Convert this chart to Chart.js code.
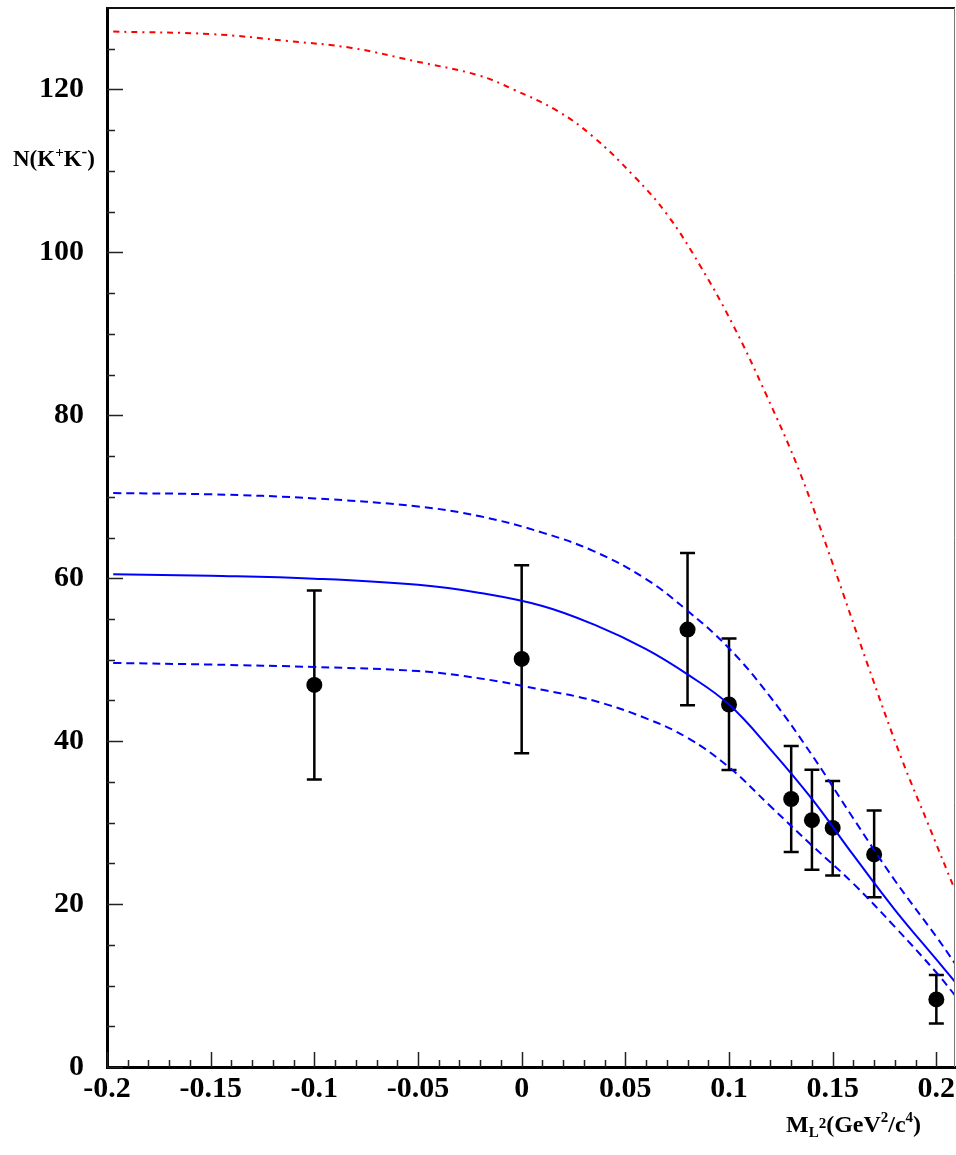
<!DOCTYPE html>
<html>
<head>
<meta charset="utf-8">
<script src="https://cdn.jsdelivr.net/npm/chart.js@4/dist/chart.umd.min.js"></script>
<style>
  html, body { margin: 0; padding: 0; background: #fff; overflow: hidden; }
  #wrap { position: relative; width: 956px; height: 1155px; }
  canvas { display: block; }
</style>
</head>
<body>
<div id="wrap"><canvas id="chart"></canvas></div>
<script>
// measured points with errors
const pointX   = [-0.1, 0, 0.08, 0.1, 0.13, 0.14, 0.15, 0.17, 0.2];
const pointY   = [46.9, 50.1, 53.7, 44.5, 32.9, 30.3, 29.35, 26.1, 8.3];
const errLow   = [35.3, 38.5, 44.4, 36.45, 26.4, 24.2, 23.5, 20.85, 5.35];
const errHigh  = [58.5, 61.6, 63.1, 52.6, 39.4, 36.5, 35.1, 31.5, 11.3];

// x positions where the blue curves were read
const bandX = [-0.197, -0.15, -0.1, -0.05, -0.02, 0.01, 0.035, 0.06, 0.08, 0.1, 0.12, 0.14, 0.16, 0.18, 0.2, 0.209];
// fit (solid blue)
const fitY  = [60.5, 60.3, 59.95, 59.2, 58.2, 56.6, 54.3, 51.3, 48.2, 44.5, 39.0, 32.9, 26.0, 19.3, 13.2, 10.45];
// fit band upper / lower (dashed blue)
const upY   = [70.45, 70.3, 69.8, 68.8, 67.6, 65.6, 63.3, 59.9, 56.0, 51.4, 45.4, 38.3, 30.5, 22.9, 16.0, 12.7];
const loY   = [49.6, 49.4, 49.1, 48.6, 47.7, 46.3, 44.95, 42.8, 40.4, 36.8, 32.0, 27.2, 22.5, 17.2, 11.6, 8.8];

// red dash-dot curve
const redX = [-0.197, -0.15, -0.113, -0.082, -0.052, -0.021, -0.004, 0.017, 0.034, 0.054, 0.07, 0.086, 0.102, 0.118, 0.134, 0.15, 0.167, 0.183, 0.196, 0.209];
const redY = [127.1, 126.8, 125.95, 125.1, 123.5, 121.75, 120.0, 117.4, 114.3, 109.4, 104.7, 98.4, 91.06, 82.5, 73.1, 61.8, 49.3, 38.0, 29.85, 21.7];

// axes
const xTicks = [-0.2, -0.15, -0.1, -0.05, 0, 0.05, 0.1, 0.15, 0.2];
const xTickLabels = ["-0.2", "-0.15", "-0.1", "-0.05", "0", "0.05", "0.1", "0.15", "0.2"];
const yTicks = [0, 20, 40, 60, 80, 100, 120];
const yTickLabels = ["0", "20", "40", "60", "80", "100", "120"];
const X_MIN = -0.2, X_MAX = 0.209, Y_MIN = 0, Y_MAX = 130;
const PAGE_W = 956, PAGE_H = 1155, AREA_RIGHT = 955;

const xMinor = [];
for (let i = -20; i <= 20; i++) xMinor.push(i / 100);
const yMinor = [];
for (let v = 0; v <= 125; v += 5) yMinor.push(v);

const SERIF = "'Liberation Serif', 'DejaVu Serif', serif";

function toXY(xs, ys) {
  return xs.map((x, i) => ({ x, y: ys[i] }));
}

function noPad(s) {
  s.paddingTop = 0;
  s.paddingBottom = 0;
  s.paddingLeft = 0;
  s.paddingRight = 0;
}

// inward tick marks + top/right frame
const frame = {
  id: "frame",
  afterDraw(chart) {
    const { ctx, chartArea: a, scales: { x, y } } = chart;
    ctx.save();
    ctx.strokeStyle = "#222";
    ctx.lineWidth = 1.5;
    ctx.beginPath();
    xMinor.forEach(v => {
      if (v < X_MIN || v > X_MAX) return;
      const major = xTicks.some(t => Math.abs(t - v) < 1e-9);
      const px = Math.round(x.getPixelForValue(v)) + 0.5;
      ctx.moveTo(px, a.bottom);
      ctx.lineTo(px, a.bottom - (major ? 15 : 7));
    });
    yMinor.forEach(v => {
      const major = yTicks.includes(v);
      const py = Math.round(y.getPixelForValue(v)) + 0.5;
      ctx.moveTo(a.left, py);
      ctx.lineTo(a.left + (major ? 16 : 8), py);
    });
    ctx.stroke();

    ctx.strokeStyle = "#111";
    ctx.lineWidth = 2;
    ctx.beginPath();
    ctx.moveTo(a.left, a.top);
    ctx.lineTo(a.right, a.top);
    ctx.stroke();
    ctx.strokeStyle = "#777";
    ctx.lineWidth = 1;
    ctx.beginPath();
    ctx.moveTo(a.right - 0.5, a.top);
    ctx.lineTo(a.right - 0.5, a.bottom);
    ctx.stroke();
    ctx.restore();
  }
};

// vertical error bars under the markers
const errorBars = {
  id: "errorBars",
  beforeDatasetsDraw(chart) {
    const { ctx, scales: { x, y } } = chart;
    ctx.save();
    ctx.strokeStyle = "#000";
    ctx.lineWidth = 2.5;
    pointX.forEach((v, i) => {
      const px = x.getPixelForValue(v);
      const top = y.getPixelForValue(errHigh[i]);
      const bot = y.getPixelForValue(errLow[i]);
      ctx.beginPath();
      ctx.moveTo(px, top);
      ctx.lineTo(px, bot);
      ctx.moveTo(px - 7.5, top);
      ctx.lineTo(px + 7.5, top);
      ctx.moveTo(px - 7.5, bot);
      ctx.lineTo(px + 7.5, bot);
      ctx.stroke();
    });
    ctx.restore();
  }
};

function drawRich(ctx, parts, x, y) {
  parts.forEach(p => {
    ctx.font = "bold " + p.size + "px " + SERIF;
    ctx.fillText(p.t, x, y + (p.dy || 0));
    x += ctx.measureText(p.t).width;
  });
}

const axisTitles = {
  id: "axisTitles",
  afterDraw(chart) {
    const { ctx } = chart;
    ctx.save();
    ctx.fillStyle = "#000";
    ctx.textBaseline = "alphabetic";
    ctx.textAlign = "left";
    drawRich(ctx, [
      { t: "N(K", size: 23 },
      { t: "+", size: 15, dy: -9 },
      { t: "K", size: 23 },
      { t: "-", size: 17, dy: -9 },
      { t: ")", size: 23 }
    ], 13, 166);
    drawRich(ctx, [
      { t: "M", size: 24 },
      { t: "L", size: 15, dy: 5 },
      { t: "2", size: 15, dy: -4 },
      { t: "(GeV", size: 24 },
      { t: "2", size: 15, dy: -10 },
      { t: "/c", size: 24 },
      { t: "4", size: 15, dy: -10 },
      { t: ")", size: 24 }
    ], 786, 1132);
    ctx.restore();
  }
};

const tickFont = { family: SERIF, size: 30, weight: "bold" };
const curve = { showLine: true, borderWidth: 2, pointRadius: 0, tension: 0.4 };

const chart = new Chart(document.getElementById("chart"), {
  type: "scatter",
  data: {
    datasets: [
      Object.assign({ label: "fit", data: toXY(bandX, fitY), borderColor: "#0000ff" }, curve),
      Object.assign({ label: "fit + 1 sigma", data: toXY(bandX, upY), borderColor: "#0000ff", borderDash: [8, 5] }, curve),
      Object.assign({ label: "fit - 1 sigma", data: toXY(bandX, loY), borderColor: "#0000ff", borderDash: [8, 5] }, curve),
      Object.assign({ label: "limit", data: toXY(redX, redY), borderColor: "#ff0000", borderDash: [6, 5, 2, 5] }, curve),
      {
        label: "data",
        data: toXY(pointX, pointY),
        showLine: false,
        pointRadius: 8,
        pointBackgroundColor: "#000",
        pointBorderColor: "#000",
        pointBorderWidth: 0
      }
    ]
  },
  options: {
    responsive: true,
    maintainAspectRatio: false,
    animation: false,
    events: [],
    layout: { padding: { top: 5, right: 1, left: 0, bottom: 0 } },
    plugins: {
      legend: { display: false },
      tooltip: { enabled: false }
    },
    scales: {
      x: {
        type: "linear",
        min: X_MIN,
        max: X_MAX,
        grid: { display: false, drawTicks: false },
        border: { display: true, color: "#000", width: 3 },
        afterBuildTicks: s => { s.ticks = xTicks.map(v => ({ value: v })); },
        afterFit: s => { s.height = 88; noPad(s); },
        ticks: {
          autoSkip: false,
          maxRotation: 0,
          padding: 4,
          color: "#000",
          font: tickFont,
          callback: (v, i) => xTickLabels[i]
        }
      },
      y: {
        type: "linear",
        min: Y_MIN,
        max: Y_MAX,
        grid: { display: false, drawTicks: false },
        border: { display: true, color: "#000", width: 3 },
        afterBuildTicks: s => { s.ticks = yTicks.map(v => ({ value: v })); },
        afterFit: s => { s.width = 107; noPad(s); },
        ticks: {
          autoSkip: false,
          padding: 23,
          color: "#000",
          font: tickFont,
          callback: (v, i) => yTickLabels[i]
        }
      }
    }
  },
  plugins: [errorBars, frame, axisTitles]
});

// chart.js keeps a few px at the right for the last tick label;
// widen the canvas past the page edge so the plot frame lands where it should
const wrap = document.getElementById("wrap");
for (let k = 0; k < 3; k++) {
  const d = AREA_RIGHT - Math.round(chart.chartArea.right);
  if (d === 0) break;
  const w = Math.round(chart.width) + d;
  wrap.style.width = w + "px";
  chart.resize(w, PAGE_H);
}
</script>
</body>
</html>
